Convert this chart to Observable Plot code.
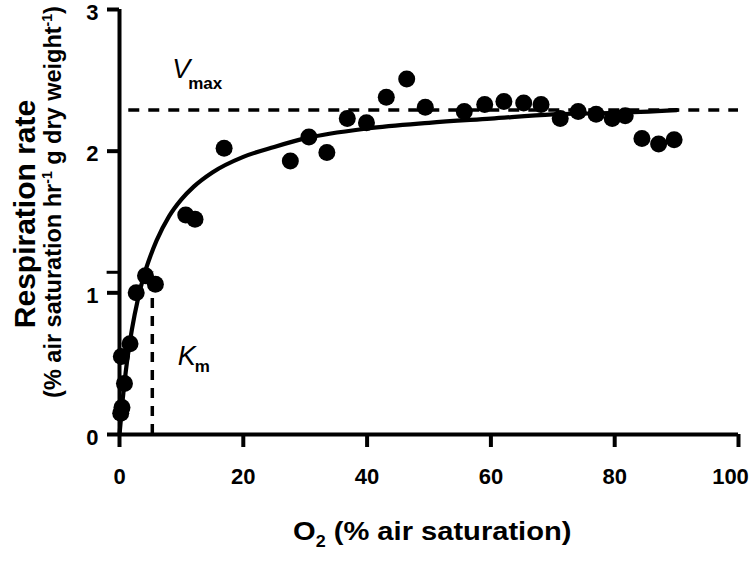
<!DOCTYPE html>
<html>
<head>
<meta charset="utf-8">
<script src="https://cdn.jsdelivr.net/npm/d3@7"></script>
<script src="https://cdn.jsdelivr.net/npm/@observablehq/plot@0.6"></script>
<style>
  html, body { margin: 0; padding: 0; background: #fff; }
  #chart { width: 756px; height: 562px; }
</style>
</head>
<body>
<div id="chart"></div>
<script>
// Observed data points
const o2 = [0.2, 0.4, 0.8, 0.3, 1.7, 2.7, 4.2, 5.8, 10.7, 12.2, 16.9, 27.6, 30.6, 33.5, 36.8, 39.9,
            43.1, 46.4, 49.4, 55.7, 59.0, 62.1, 65.3, 68.1, 71.2, 74.1, 77.0, 79.6, 81.7, 84.4, 87.1, 89.6];
const rate = [0.15, 0.19, 0.36, 0.55, 0.64, 1.00, 1.12, 1.06, 1.55, 1.52, 2.02, 1.93, 2.10, 1.99, 2.23, 2.20,
              2.38, 2.51, 2.31, 2.28, 2.33, 2.35, 2.34, 2.33, 2.23, 2.28, 2.26, 2.23, 2.25, 2.09, 2.05, 2.08];

// Fitted curve
const fitX = [0, 0.5, 1, 2, 3, 4, 5, 6, 8, 10, 12, 15, 20, 25, 30, 40, 50, 60, 70, 80, 90];
const fitY = [0, 0.24, 0.44, 0.74, 0.96, 1.13, 1.26, 1.37, 1.54, 1.66, 1.75, 1.85, 1.96, 2.03, 2.09, 2.16, 2.20, 2.23, 2.26, 2.27, 2.29];

// Reference values
const vmax = 2.29;
const km = 5.3;

// Tick labels
const xTicks = [0, 20, 40, 60, 80, 100];
const yTicks = [0, 1, 2, 3];

const points = o2.map((x, i) => ({x, y: rate[i]}));
const fit = fitX.map((x, i) => ({x, y: fitY[i]}));

const FONT = "'Liberation Sans', Arial, Helvetica, sans-serif";
const lastX = xTicks[xTicks.length - 1];

const plot = Plot.plot({
  width: 756,
  height: 562,
  marginLeft: 119,
  marginRight: 18,
  marginTop: 9,
  marginBottom: 128,
  style: {fontFamily: FONT, color: "black", background: "white", overflow: "visible"},
  x: {domain: [0, 100]},
  y: {domain: [0, 3]},
  marks: [
    Plot.ruleY([vmax], {x1: 1.5, x2: 100, stroke: "black", strokeWidth: 3.5, strokeDasharray: "11,9"}),
    Plot.ruleX([km], {y1: 0, y2: vmax / 2, stroke: "black", strokeWidth: 3.5, strokeDasharray: "10,8"}),
    Plot.ruleY([vmax / 2], {x1: -2, x2: 0, stroke: "black", strokeWidth: 3}),
    Plot.ruleY([0], {stroke: "black", strokeWidth: 4}),
    Plot.ruleX([0], {stroke: "black", strokeWidth: 4}),
    Plot.line(fit, {x: "x", y: "y", stroke: "black", strokeWidth: 4.2, curve: "monotone-x"}),
    Plot.dot(points, {x: "x", y: "y", r: 8.5, fill: "black", stroke: "none"}),
    // x ticks + labels (last label nudged left as in the reference)
    Plot.axisX({ticks: xTicks, tickSize: 13, tickPadding: 21, fontSize: 22, fontWeight: "bold",
                stroke: "black", strokeWidth: 4, label: null,
                tickFormat: d => d === lastX ? "" : String(d)}),
    Plot.axisX({ticks: [lastX], tickSize: 0, tickPadding: 34, dx: -8, fontSize: 22, fontWeight: "bold",
                label: null, tickFormat: d => String(d)}),
    // y ticks, then labels slightly lowered
    Plot.axisY({ticks: yTicks, tickSize: 12, stroke: "black", strokeWidth: 4, label: null,
                tickFormat: () => ""}),
    Plot.axisY({ticks: yTicks, tickSize: 0, tickPadding: 21, dy: 3, fontSize: 22, fontWeight: "bold",
                label: null, tickFormat: d => String(d)})
  ]
});

document.getElementById("chart").appendChild(plot);

const svg = d3.select(plot);
const sx = plot.scale("x");
const sy = plot.scale("y");

// Vmax label
const tv = svg.append("text")
  .attr("x", sx.apply(8.6)).attr("y", sy.apply(2.51))
  .attr("text-anchor", "start")
  .attr("font-family", FONT).attr("fill", "black");
tv.append("tspan").attr("font-size", 27).attr("font-style", "italic").attr("font-weight", "normal").text("V");
tv.append("tspan").attr("font-size", 17).attr("font-weight", "bold").attr("dy", 11).attr("dx", -2).text("max");

// Km label
const tk = svg.append("text")
  .attr("x", sx.apply(9.5)).attr("y", sy.apply(0.487))
  .attr("text-anchor", "start")
  .attr("font-family", FONT).attr("fill", "black");
tk.append("tspan").attr("font-size", 27).attr("font-style", "italic").attr("font-weight", "normal").text("K");
tk.append("tspan").attr("font-size", 17).attr("font-weight", "bold").attr("dy", 7).attr("dx", -1).text("m");

// X axis title
const xt = svg.append("text")
  .attr("transform", "translate(293,540) scale(1.12,1)")
  .attr("text-anchor", "start")
  .attr("font-family", FONT).attr("font-weight", "bold").attr("font-size", 26).attr("fill", "black");
xt.append("tspan").text("O");
xt.append("tspan").attr("font-size", 16).attr("dy", 7).text("2");
xt.append("tspan").attr("dy", -7).text(" (% air saturation)");

// Y axis title (two lines)
svg.append("text")
  .attr("transform", "translate(35,214) rotate(-90)")
  .attr("text-anchor", "middle")
  .attr("font-family", FONT).attr("font-weight", "bold").attr("font-size", 30).attr("fill", "black")
  .text("Respiration rate");

const yt = svg.append("text")
  .attr("transform", "translate(61,202) rotate(-90)")
  .attr("text-anchor", "middle")
  .attr("font-family", FONT).attr("font-weight", "bold").attr("font-size", 23.5).attr("fill", "black");
yt.append("tspan").text("(% air saturation hr");
yt.append("tspan").attr("font-size", 14).attr("dy", -9).text("-1");
yt.append("tspan").attr("dy", 9).text(" g dry weight");
yt.append("tspan").attr("font-size", 14).attr("dy", -9).text("-1");
yt.append("tspan").attr("dy", 9).text(")");
</script>
</body>
</html>
